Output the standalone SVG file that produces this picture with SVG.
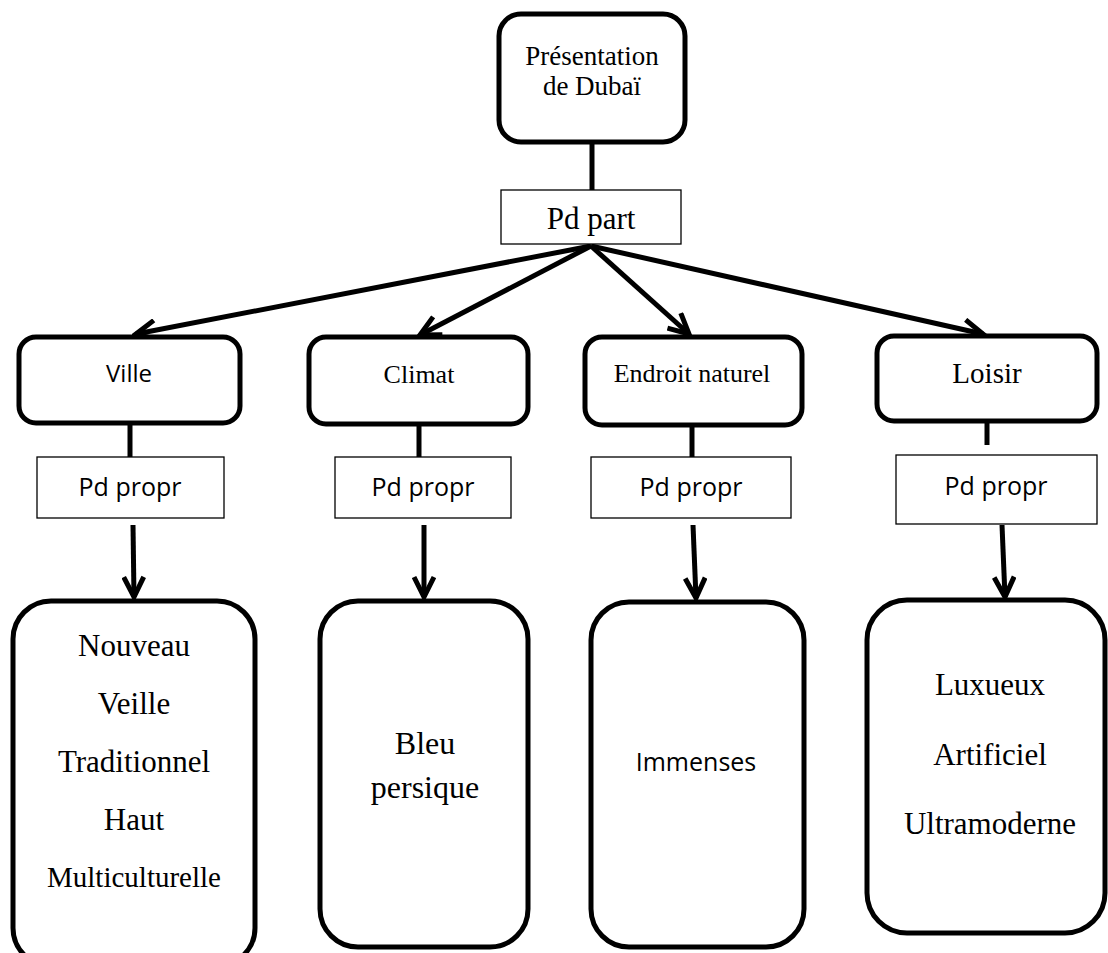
<svg xmlns="http://www.w3.org/2000/svg" width="1108" height="953" viewBox="0 0 1108 953">
<defs>
<style>
.thick{fill:#fff;stroke:#000;stroke-width:5}
.thin{fill:#fff;stroke:#000;stroke-width:1.3}
.serif{font-family:"Liberation Serif","Times New Roman",serif;fill:#000;text-anchor:middle}
.sans{font-family:"Open Sans","Liberation Sans",sans-serif;fill:#000;text-anchor:middle}
.line{stroke:#000;stroke-width:5;fill:none}
.arrow{stroke:#000;stroke-width:5;fill:none;marker-end:url(#ah)}
</style>
<marker id="ah" markerUnits="userSpaceOnUse" viewBox="-22 -12 26 24" refX="0" refY="0" markerWidth="26" markerHeight="24" orient="auto">
<path d="M-20,-10 L0,0 L-20,10" fill="none" stroke="#000" stroke-width="5" stroke-linejoin="miter"/>
</marker>
</defs>
<rect width="1108" height="953" fill="#fff"/>

<g id="connectors">
<line class="line" x1="592" y1="142" x2="592" y2="190"/>
<line class="arrow" x1="591" y1="246" x2="136" y2="334"/>
<line class="arrow" x1="591" y1="246" x2="420" y2="335"/>
<line class="arrow" x1="591" y1="246" x2="689" y2="334"/>
<line class="arrow" x1="591" y1="246" x2="983" y2="334"/>
<line class="line" x1="130" y1="424" x2="130" y2="457"/>
<line class="line" x1="419" y1="424" x2="419" y2="457"/>
<line class="line" x1="692" y1="426" x2="692" y2="457"/>
<line class="line" x1="987" y1="422" x2="987" y2="445"/>
<line class="arrow" x1="133" y1="525" x2="134" y2="597"/>
<line class="arrow" x1="424" y1="525" x2="424" y2="597"/>
<line class="arrow" x1="693" y1="525" x2="696" y2="598"/>
<line class="arrow" x1="1002" y1="525" x2="1005" y2="597"/>
</g>

<g id="n-presentation">
<rect class="thick" x="499" y="14" width="186" height="128" rx="22"/>
<text class="serif" x="592" y="65" font-size="27">Présentation</text>
<text class="serif" x="592" y="95" font-size="27">de Dubaï</text>
</g>

<g id="n-pdpart">
<rect class="thin" x="501" y="190" width="180" height="54"/>
<text class="serif" x="591" y="229" font-size="31">Pd part</text>
</g>

<g id="n-ville">
<rect class="thick" x="19" y="337" width="221" height="86" rx="17"/>
<text class="sans" x="129" y="382" font-size="24">Ville</text>
</g>
<g id="n-climat">
<rect class="thick" x="309" y="337" width="219" height="87" rx="17"/>
<text class="serif" x="419" y="383" font-size="26">Climat</text>
</g>
<g id="n-endroit">
<rect class="thick" x="585" y="337" width="217" height="88" rx="17"/>
<text class="serif" x="692" y="382" font-size="26">Endroit naturel</text>
</g>
<g id="n-loisir">
<rect class="thick" x="877" y="336" width="220" height="85" rx="17"/>
<text class="serif" x="987" y="383" font-size="29">Loisir</text>
</g>

<g id="n-pdpropr1">
<rect class="thin" x="37" y="457" width="187" height="61"/>
<text class="sans" x="130" y="496" font-size="25">Pd propr</text>
</g>
<g id="n-pdpropr2">
<rect class="thin" x="335" y="457" width="176" height="61"/>
<text class="sans" x="423" y="496" font-size="25">Pd propr</text>
</g>
<g id="n-pdpropr3">
<rect class="thin" x="591" y="457" width="200" height="61"/>
<text class="sans" x="691" y="496" font-size="25">Pd propr</text>
</g>
<g id="n-pdpropr4">
<rect class="thin" x="896" y="455" width="201" height="69"/>
<text class="sans" x="996" y="495" font-size="25">Pd propr</text>
</g>

<g id="n-ville-props">
<rect class="thick" x="13" y="601" width="242" height="365" rx="38"/>
<text class="serif" x="134" y="656" font-size="31">Nouveau</text>
<text class="serif" x="134" y="714" font-size="31">Veille</text>
<text class="serif" x="134" y="772" font-size="31">Traditionnel</text>
<text class="serif" x="134" y="830" font-size="31">Haut</text>
<text class="serif" x="134" y="887" font-size="29">Multiculturelle</text>
</g>
<g id="n-climat-props">
<rect class="thick" x="320" y="601" width="208" height="346" rx="38"/>
<text class="serif" x="425" y="754" font-size="32">Bleu</text>
<text class="serif" x="425" y="798" font-size="32">persique</text>
</g>
<g id="n-endroit-props">
<rect class="thick" x="591" y="602" width="213" height="345" rx="38"/>
<text class="sans" x="696" y="771" font-size="25">Immenses</text>
</g>
<g id="n-loisir-props">
<rect class="thick" x="867" y="600" width="238" height="333" rx="40"/>
<text class="serif" x="990" y="695" font-size="31">Luxueux</text>
<text class="serif" x="990" y="765" font-size="31">Artificiel</text>
<text class="serif" x="990" y="834" font-size="31">Ultramoderne</text>
</g>
</svg>
